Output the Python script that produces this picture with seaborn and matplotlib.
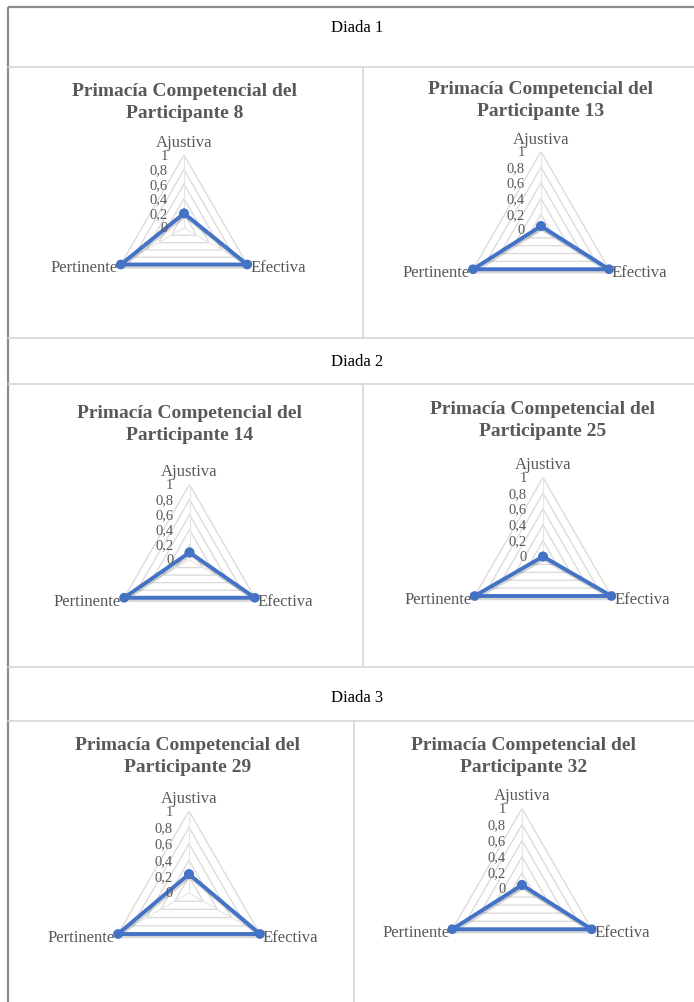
import numpy as np
import pandas as pd
import matplotlib
matplotlib.use("Agg")
import matplotlib.pyplot as plt
import matplotlib.transforms as mtransforms
import matplotlib.patheffects as pe
import seaborn as sns

# ---- data -------------------------------------------------------------
categories = ["Ajustiva", "Efectiva", "Pertinente"]
dyads = ["Diada 1", "Diada 2", "Diada 3"]
participants = [8, 13, 14, 25, 29, 32]
ajustiva = [0.20, 0.05, 0.10, 0.00, 0.23, 0.05]
efectiva = [1.0, 1.0, 1.0, 1.0, 1.0, 1.0]
pertinente = [1.0, 1.0, 1.0, 1.0, 1.0, 1.0]
ticks = [0, 0.2, 0.4, 0.6, 0.8, 1.0]
tick_labels = ["0", "0,2", "0,4", "0,6", "0,8", "1"]

# ---- layout (pixels, origin top-left) --------------------------------
W, H = 694, 1003
centers = [(184, 229, 73), (541, 231, 78.5), (189.5, 561, 75.5),
           (543, 557.5, 79), (189, 894, 82), (522, 890, 80.5)]
title_pos = [(185, 91), (541, 89), (190, 413), (543, 410), (188, 745), (524, 745)]
dyad_y = [28, 362, 698]

sns.set_theme(style="white")
plt.rcParams["font.family"] = ["Liberation Serif", "DejaVu Serif"]

GRAY_TXT = "#595959"
GRID = "#D9D9D9"
BLUE = "#4472C4"

fig = plt.figure(figsize=(W / 100, H / 100), dpi=100)
fig.patch.set_facecolor("white")

# background axes in pixel units for the table frame
bg = fig.add_axes([0, 0, 1, 1])
bg.set_xlim(0, W)
bg.set_ylim(H, 0)
bg.axis("off")

# outer border (top and left)
bg.plot([8, W], [8, 8], color="#8C8C8C", lw=1.6, solid_capstyle="butt")
bg.plot([8, 8], [8, H], color="#8C8C8C", lw=1.6, solid_capstyle="butt")
# inner row separators
for y in [68, 339, 385, 668, 722]:
    bg.plot([8, W], [y, y], color="#D6D6D6", lw=1.2)
# column separators
bg.plot([363, 363], [68, 339], color="#D6D6D6", lw=1.2)
bg.plot([363, 363], [385, 668], color="#D6D6D6", lw=1.2)
bg.plot([354, 354], [722, H], color="#D6D6D6", lw=1.2)

for y, name in zip(dyad_y, dyads):
    bg.text(357, y, name, ha="center", va="center", fontsize=12, color="black")

angles = [0.0, 2 * np.pi / 3, 4 * np.pi / 3]
closed = angles + [2 * np.pi]

for i, pid in enumerate(participants):
    cx, cy, R = centers[i]
    ax = fig.add_axes([(cx - R) / W, 1 - (cy + R) / H, 2 * R / W, 2 * R / H],
                      projection="polar")
    ax.set_theta_offset(np.pi / 2)
    ax.set_theta_direction(-1)
    ax.set_facecolor("none")
    ax.grid(False)
    ax.spines["polar"].set_visible(False)

    # triangular web
    for lvl in ticks[1:]:
        ax.plot(closed, [lvl] * 4, color=GRID, lw=0.9, zorder=1)
    for a in angles:
        ax.plot([a, a], [0, 1], color="#E6E6E6", lw=0.8, zorder=1)

    vals = [ajustiva[i], efectiva[i], pertinente[i]]
    df = pd.DataFrame({"theta": closed, "valor": vals + [vals[0]]})
    sns.lineplot(data=df, x="theta", y="valor", ax=ax, sort=False,
                 estimator=None, color=BLUE, lw=2.8, marker="o",
                 markersize=7, markeredgewidth=0, clip_on=False, zorder=3,
                 path_effects=[pe.SimpleLineShadow(offset=(0.6, -1.6),
                                                   shadow_color="black", alpha=0.16),
                               pe.Normal()])
    ax.set_xlabel("")
    ax.set_ylabel("")
    ax.set_xticks([])
    ax.set_yticks([])
    ax.set_xlim(0, 2 * np.pi)
    ax.set_ylim(0, 1)

    # radial value labels
    tr = mtransforms.offset_copy(ax.transData, fig=fig, x=-16, y=0, units="dots")
    for lvl, lab in zip(ticks, tick_labels):
        ax.text(0, lvl, lab, transform=tr, ha="right", va="center",
                fontsize=10.5, color=GRAY_TXT, zorder=4)

    # category labels
    t_top = mtransforms.offset_copy(ax.transData, fig=fig, x=0, y=13, units="dots")
    t_right = mtransforms.offset_copy(ax.transData, fig=fig, x=3, y=-3, units="dots")
    t_left = mtransforms.offset_copy(ax.transData, fig=fig, x=-3, y=-3, units="dots")
    ax.text(angles[0], 1, categories[0], transform=t_top, ha="center", va="center",
            fontsize=12, color=GRAY_TXT)
    ax.text(angles[1], 1, categories[1], transform=t_right, ha="left", va="center",
            fontsize=12, color=GRAY_TXT)
    ax.text(angles[2], 1, categories[2], transform=t_left, ha="right", va="center",
            fontsize=12, color=GRAY_TXT)

    tx, ty = title_pos[i]
    bg.text(tx, ty, "Primacía Competencial del", ha="center", va="center",
            fontsize=14, fontweight="bold", color=GRAY_TXT)
    bg.text(tx, ty + 22, f"Participante {pid}", ha="center", va="center",
            fontsize=14, fontweight="bold", color=GRAY_TXT)

fig.savefig("out.png", dpi=100, facecolor="white")
